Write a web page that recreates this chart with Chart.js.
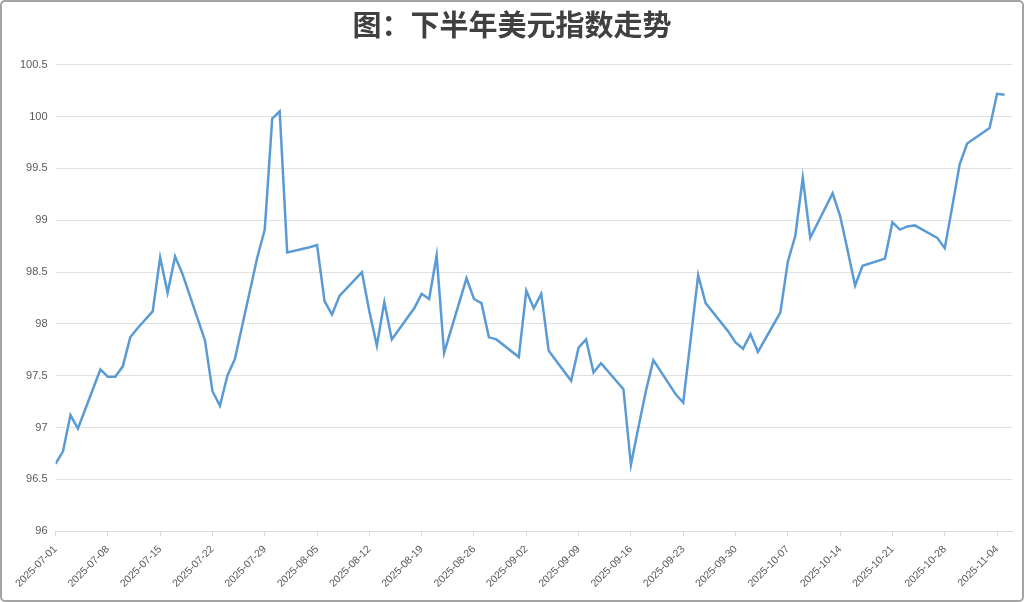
<!DOCTYPE html>
<html>
<head>
<meta charset="utf-8">
<script src="https://cdn.jsdelivr.net/npm/chart.js@4.4.1/dist/chart.umd.min.js"></script>
<style>
  html, body { margin: 0; padding: 0; background: #fff; }
  .frame {
    width: 1024px; height: 602px; box-sizing: border-box;
    border: 2px solid #a3a3a3; border-radius: 5px; position: relative;
  }
</style>
</head>
<body>
<div class="frame"><canvas id="chartDxy"></canvas></div>
<script>
// 美元指数 2025 下半年（交易日）
const dates = [
  "2025-07-01", "2025-07-02", "2025-07-03", "2025-07-04", "2025-07-07", "2025-07-08", "2025-07-09", "2025-07-10",
  "2025-07-11", "2025-07-12", "2025-07-14", "2025-07-15", "2025-07-16", "2025-07-17", "2025-07-18", "2025-07-21",
  "2025-07-22", "2025-07-23", "2025-07-24", "2025-07-25", "2025-07-28", "2025-07-29", "2025-07-30", "2025-07-31",
  "2025-08-01", "2025-08-04", "2025-08-05", "2025-08-06", "2025-08-07", "2025-08-08", "2025-08-11", "2025-08-12",
  "2025-08-13", "2025-08-14", "2025-08-15", "2025-08-18", "2025-08-19", "2025-08-20", "2025-08-21", "2025-08-22",
  "2025-08-25", "2025-08-26", "2025-08-27", "2025-08-28", "2025-08-29", "2025-09-01", "2025-09-02", "2025-09-03",
  "2025-09-04", "2025-09-05", "2025-09-08", "2025-09-09", "2025-09-10", "2025-09-11", "2025-09-12", "2025-09-15",
  "2025-09-16", "2025-09-17", "2025-09-18", "2025-09-19", "2025-09-22", "2025-09-23", "2025-09-24", "2025-09-25",
  "2025-09-26", "2025-09-29", "2025-09-30", "2025-10-01", "2025-10-02", "2025-10-03", "2025-10-06", "2025-10-07",
  "2025-10-08", "2025-10-09", "2025-10-10", "2025-10-13", "2025-10-14", "2025-10-15", "2025-10-16", "2025-10-17",
  "2025-10-20", "2025-10-21", "2025-10-22", "2025-10-23", "2025-10-24", "2025-10-27", "2025-10-28", "2025-10-29",
  "2025-10-30", "2025-10-31", "2025-11-03", "2025-11-04", "2025-11-05"
];
const dxy = [
  96.65, 96.77, 97.12, 96.99, 97.56, 97.49, 97.49, 97.59,
  97.87, 97.96, 98.12, 98.64, 98.30, 98.65, 98.48, 97.84,
  97.35, 97.21, 97.50, 97.66, 98.64, 98.91, 99.98, 100.05,
  98.69, 98.74, 98.76, 98.22, 98.09, 98.27, 98.50, 98.12,
  97.79, 98.21, 97.85, 98.15, 98.29, 98.24, 98.66, 97.72,
  98.44, 98.24, 98.20, 97.87, 97.85, 97.68, 98.32, 98.15,
  98.29, 97.74, 97.45, 97.77, 97.85, 97.53, 97.62, 97.37,
  96.64, 97.00, 97.35, 97.65, 97.32, 97.24, 97.85, 98.47,
  98.20, 97.93, 97.82, 97.76, 97.90, 97.73, 98.11, 98.60,
  98.85, 99.41, 98.83, 99.26, 99.04, 98.71, 98.37, 98.56,
  98.63, 98.98, 98.91, 98.94, 98.95, 98.83, 98.73, 99.13,
  99.54, 99.74, 99.89, 100.22, 100.21
];
const axisStart = "2025-07-01";
const axisEnd = "2025-11-06";
const yTicks = [96, 100.5, 0.5]; // min, max, step

const DAY = 86400000;
const t0 = Date.parse(axisStart);
const dayOf = (d) => Math.round((Date.parse(d) - t0) / DAY);
const labelOf = (n) => new Date(t0 + n * DAY).toISOString().slice(0, 10);

const points = dates.map((d, i) => ({ x: dayOf(d), y: dxy[i] }));

new Chart(document.getElementById("chartDxy"), {
  type: "line",
  data: {
    datasets: [
      {
        label: "美元指数",
        data: points,
        borderColor: "#5b9bd5",
        borderWidth: 2.5,
        pointRadius: 0,
        tension: 0,
        fill: false,
      },
    ],
  },
  options: {
    responsive: true,
    maintainAspectRatio: false,
    animation: false,
    layout: { padding: { left: 10, right: 10, top: 0, bottom: 3 } },
    plugins: {
      legend: { display: false },
      tooltip: { enabled: false },
      title: {
        display: true,
        text: "图：下半年美元指数走势",
        color: "#404040",
        font: { family: "'Noto Sans CJK SC', 'Noto Sans'", size: 29, weight: "bold" },
        padding: { top: 6, bottom: 22 },
      },
    },
    scales: {
      x: {
        type: "linear",
        min: 0,
        max: dayOf(axisEnd),
        grid: { drawOnChartArea: false, tickLength: 5, color: "#d9d9d9" },
        border: { display: true, color: "#d9d9d9" },
        ticks: {
          stepSize: 7,
          includeBounds: false,
          autoSkip: false,
          maxRotation: 45,
          minRotation: 45,
          padding: 7,
          color: "#595959",
          font: { family: "'Liberation Sans'", size: 10.5 },
          callback: (v) => labelOf(v),
        },
      },
      y: {
        min: yTicks[0],
        max: yTicks[1],
        grid: { color: "#e0e0e0", drawTicks: false },
        border: { display: false },
        ticks: {
          stepSize: yTicks[2],
          padding: 8,
          color: "#595959",
          font: { family: "'Liberation Sans'", size: 11 },
          callback: (v) => String(v),
        },
      },
    },
  },
});
</script>
</body>
</html>
